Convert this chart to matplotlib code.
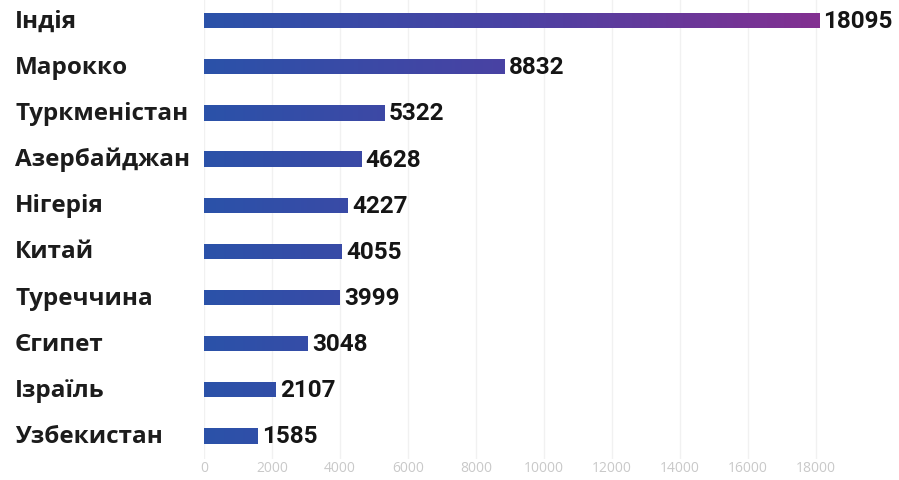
import numpy as np
import matplotlib
matplotlib.use("Agg")
import matplotlib.pyplot as plt
from matplotlib.colors import LinearSegmentedColormap, Normalize
from matplotlib.transforms import blended_transform_factory

countries = ["Індія", "Марокко", "Туркменістан", "Азербайджан", "Нігерія",
             "Китай", "Туреччина", "Єгипет", "Ізраїль", "Узбекистан"]
values = [18095, 8832, 5322, 4628, 4227, 4055, 3999, 3048, 2107, 1585]
xticks = [0, 2000, 4000, 6000, 8000, 10000, 12000, 14000, 16000, 18000]

W, H = 899, 481
fig = plt.figure(figsize=(W / 100, H / 100), dpi=100)
fig.patch.set_facecolor("white")
ax = fig.add_axes([204 / W, 21 / H, 680 / W, 460 / H])
ax.set_facecolor("none")

cmap = LinearSegmentedColormap.from_list("bp", ["#2b52a9", "#4a42a3", "#833091"])
norm = Normalize(0, 18095)

ypos = np.arange(len(values))
bh = 0.33
bars = ax.barh(ypos, values, height=bh, color="none", edgecolor="none", zorder=2)
for b, v in zip(bars, values):
    x0, y0 = b.get_x(), b.get_y()
    arr = norm(np.linspace(0, v, 512))[None, :]
    im = ax.imshow(arr, cmap=cmap, vmin=0, vmax=1, aspect="auto",
                   extent=(0, v, y0 + b.get_height(), y0), zorder=2,
                   interpolation="bilinear")
    im.set_clip_path(b)

ax.set_xlim(0, 20000)
ax.set_ylim(9.5, -0.47)
ax.set_xticks(xticks)
ax.set_xticklabels([str(t) for t in xticks], fontsize=10, color="#c9c9c9",
                   family="Open Sans")
ax.tick_params(axis="x", length=0, pad=1)
ax.set_yticks([])
for s in ax.spines.values():
    s.set_visible(False)
for t in xticks:
    ax.axvline(t, color="#f1f1f1", lw=1, zorder=0)

trans = blended_transform_factory(fig.transFigure, ax.transData)
for y, c in zip(ypos, countries):
    ax.text(15 / W, y, c, transform=trans, ha="left", va="center",
            fontsize=17.5, fontweight="bold", color="#1c1c1c", family="Open Sans")

for y, v in zip(ypos, values):
    ax.annotate(str(v), xy=(v, y), xytext=(3, 0), textcoords="offset points",
                ha="left", va="center", fontsize=17.5, fontweight="bold",
                color="#151515", family="Roboto")

fig.savefig("out.png", dpi=100, facecolor="white")
